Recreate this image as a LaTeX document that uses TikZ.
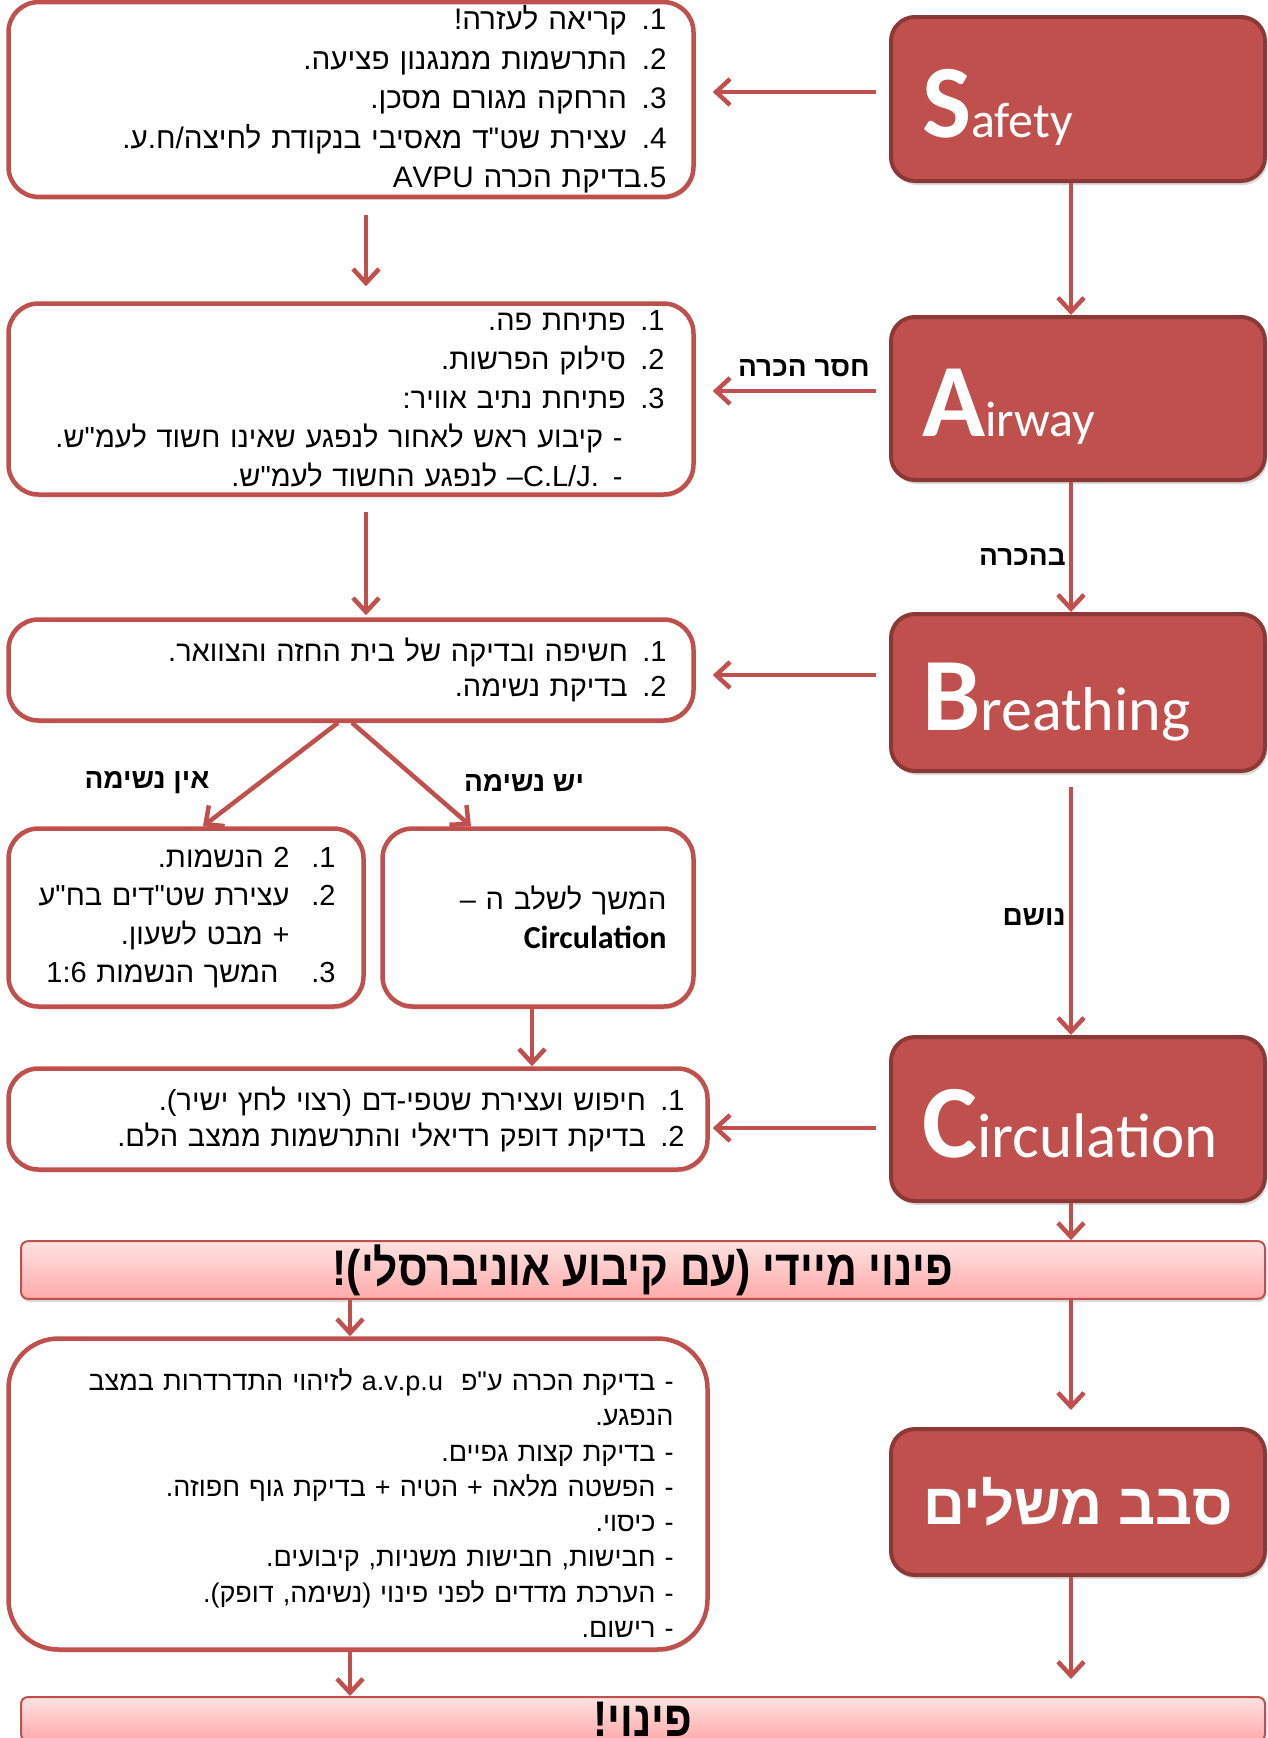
\documentclass[tikz,border=0pt]{standalone}
\usepackage{fontspec}
\usepackage{tikz}
\usetikzlibrary{arrows.meta,shadows}
\newfontfamily\hebfont[Script=Hebrew]{Liberation Sans}
\newfontfamily\barfont[Script=Hebrew,FakeStretch=0.85]{Liberation Sans}
\newfontfamily\calfont{Carlito}
\TeXXeTstate=1
\newcommand{\rline}[1]{\beginR #1\endR}
\newcommand{\initial}[3]{{\fontsize{104}{104}\selectfont\bfseries #1}{\fontsize{#3}{#3}\selectfont #2}}
\definecolor{boxred}{HTML}{C0504D}
\definecolor{boxedge}{HTML}{8C3836}
\definecolor{bartop}{HTML}{FFE2E2}
\definecolor{barbot}{HTML}{FFAAAA}

\begin{document}
\begin{tikzpicture}[x=1pt,y=-1pt,
  bigbox/.style={rounded corners=24pt, fill=boxred, draw=boxedge, line width=4pt, minimum width=374pt, text=white, drop shadow={opacity=.3,shadow xshift=2pt,shadow yshift=-4pt}},
  letterbox/.style={bigbox, inner xsep=31pt, text width=312pt, align=left, text height=80pt, text depth=4pt, font=\calfont},
  listbox/.style={rounded corners=30pt, fill=white, draw=boxred, line width=4.5pt, align=right, drop shadow={opacity=.25,shadow xshift=1pt,shadow yshift=-3pt}},
  bar/.style={rounded corners=7pt, draw=boxred, line width=2pt, top color=bartop, bottom color=barbot, minimum width=1244pt, minimum height=44pt, font=\barfont\bfseries\fontsize{50}{50}\selectfont, drop shadow={opacity=.3,shadow xshift=1pt,shadow yshift=-3pt}},
  lbl/.style={font=\hebfont\bfseries\fontsize{28}{30}\selectfont, inner sep=3pt},
  arr/.style={draw=boxred, line width=4.5pt, -{Straight Barb[length=14pt,width=26pt]}}]
\useasboundingbox (0,0) rectangle (1268,1738);

\node[letterbox, minimum height=164pt] (safety) at (1078,99) {\initial{S}{afety}{50}};
\node[letterbox, minimum height=163pt] (airway) at (1078,398.5) {\initial{A}{irway}{50}};
\node[letterbox, minimum height=157pt] (breathing) at (1078,692.5) {\initial{B}{reathing}{62}};
\node[letterbox, minimum height=164pt] (circulation) at (1078,1119) {\initial{C}{irculation}{63}};
\node[bigbox, minimum height=146pt, font=\hebfont\bfseries\fontsize{58}{58}\selectfont] (sevev) at (1078,1502) {\rline{סבב משלים}};

\node[listbox, minimum height=190pt, inner xsep=27pt, text width=631pt, font=\hebfont\fontsize{29.7}{39.6}\selectfont] (safetyList) at (351,99.5) {%
\rline{1. קריאה לעזרה!}\\
\rline{2. התרשמות ממנגנון פציעה.}\\
\rline{3. הרחקה מגורם מסכן.}\\
\rline{4. עצירת שט"ד מאסיבי בנקודת לחיצה/ח.ע.}\\
\rline{5.בדיקת הכרה AVPU}};
\node[listbox, minimum height=191pt, inner xsep=29pt, text width=627pt, font=\hebfont\fontsize{29}{39}\selectfont] (airwayList) at (351,399) {%
\rline{1. פתיחת פה.}\\
\rline{2. סילוק הפרשות.}\\
\rline{3. פתיחת נתיב אוויר:}\\
\rline{\hspace*{42pt}- קיבוע ראש לאחור לנפגע שאינו חשוד לעמ"ש.}\\
\rline{\hspace*{42pt}-\hspace{14pt}–C.L/J. לנפגע החשוד לעמ"ש.}};
\node[listbox, minimum height=101pt, inner xsep=27pt, text width=631pt, font=\hebfont\fontsize{29}{35}\selectfont] (breathList) at (351,670) {%
\rline{1. חשיפה ובדיקה של בית החזה והצוואר.}\\
\rline{2. בדיקת נשימה.}};
\node[listbox, minimum height=178pt, inner xsep=28pt, text width=299pt, font=\hebfont\fontsize{29}{38.3}\selectfont] (noBreath) at (186,917.5) {%
\rline{\makebox[46pt][l]{1.}2 הנשמות.}\\
\rline{\makebox[46pt][l]{2.}עצירת שט"דים בח"ע}\\
\rline{\makebox[46pt]{}+ מבט לשעון.}\\
\rline{\makebox[46pt][l]{3.}\hspace{11pt}המשך הנשמות 1:6}};
\node[listbox, minimum height=178pt, inner xsep=27pt, text width=257pt, font=\hebfont\fontsize{29}{39}\selectfont] (yesBreath) at (538,917.5) {%
\rline{המשך לשלב ה –}\\
{\calfont\bfseries\fontsize{32}{39}\selectfont Circulation}};
\node[listbox, minimum height=101pt, inner xsep=23pt, text width=653pt, font=\hebfont\fontsize{29}{36}\selectfont] (circList) at (358,1119) {%
\rline{1. חיפוש ועצירת שטפי-דם (רצוי לחץ ישיר).}\\
\rline{2. בדיקת דופק רדיאלי והתרשמות ממצב הלם.}};
\node[listbox, rounded corners=50pt, minimum height=311pt, inner xsep=34pt, text width=631pt, font=\hebfont\fontsize{27}{35.3}\selectfont] (finalList) at (358,1494) {%
\rline{\rule{0pt}{40pt}- בדיקת הכרה ע"פ \ a.v.p.u לזיהוי התדרדרות במצב}\\
\rline{הנפגע.}\\
\rline{- בדיקת קצות גפיים.}\\
\rline{- הפשטה מלאה + הטיה + בדיקת גוף חפוזה.}\\
\rline{- כיסוי.}\\
\rline{- חבישות, חבישות משניות, קיבועים.}\\
\rline{- הערכת מדדים לפני פינוי (נשימה, דופק).}\\
\rline{- רישום.}};

\node[bar] (evac1) at (643,1270) {\rline{פינוי מיידי (עם קיבוע אוניברסלי)!}};
\node[bar] (evac2) at (643,1719) {\rline{פינוי!}};

\node[lbl] (noBreathLbl) at (147,783) {\rline{אין נשימה}};
\node[lbl] (yesBreathLbl) at (524,783) {\rline{יש נשימה}};

\draw[arr] ([xshift=-7pt]safety.south) -- ([xshift=-7pt]airway.north);
\draw[arr] ([xshift=-7pt]airway.south) -- node[lbl, left, pos=.58] (consciousLbl) {\rline{בהכרה}} ([xshift=-7pt]breathing.north);
\draw[arr, shorten <=14pt] ([xshift=-7pt]breathing.south) -- node[lbl, left, pos=.55] (breathesLbl) {\rline{נושם}} ([xshift=-7pt]circulation.north);
\draw[arr] ([xshift=-7pt]circulation.south) -- ([xshift=-7pt]circulation.south |- evac1.north);
\draw[arr, shorten >=17pt] ([xshift=-7pt]sevev.north |- evac1.south) -- ([xshift=-7pt]sevev.north);
\draw[arr, shorten >=17pt] ([xshift=-7pt]sevev.south) -- ([xshift=-7pt]sevev.south |- evac2.north);

\draw[arr, shorten <=13pt, shorten >=17pt] ([yshift=7pt]safety.west) -- ([yshift=7pt]safety.west -| safetyList.east);
\draw[arr, shorten <=13pt, shorten >=17pt] ([yshift=7.5pt]airway.west) -- node[lbl, above=9pt, pos=.44] (unconsciousLbl) {\rline{חסר הכרה}} ([yshift=7.5pt]airway.west -| airwayList.east);
\draw[arr, shorten <=13pt, shorten >=17pt] ([yshift=17.5pt]breathing.west) -- ([yshift=17.5pt]breathing.west -| breathList.east);
\draw[arr, shorten <=13pt, shorten >=3pt] ([yshift=-9pt]circulation.west) -- ([yshift=-9pt]circulation.west -| circList.east);

\draw[arr, shorten <=16pt, shorten >=15pt] ([xshift=15pt]safetyList.south) -- ([xshift=15pt]safetyList.south |- airwayList.north);
\draw[arr, shorten <=15pt, shorten >=2pt] ([xshift=15pt]airwayList.south) -- ([xshift=15pt]airwayList.south |- breathList.north);
\draw[arr] ([xshift=-13pt]breathList.south) -- ([xshift=17pt]noBreath.north);
\draw[arr] ([xshift=1pt]breathList.south) -- ([xshift=-67pt]yesBreath.north);
\draw[arr] ([xshift=-6pt]yesBreath.south) -- ([xshift=-6pt]yesBreath.south |- circList.north);
\draw[arr] ([xshift=-8pt]finalList.north |- evac1.south) -- ([xshift=-8pt]finalList.north);
\draw[arr] ([xshift=-8pt]finalList.south) -- ([xshift=-8pt]finalList.south |- evac2.north);
\end{tikzpicture}
\end{document}
